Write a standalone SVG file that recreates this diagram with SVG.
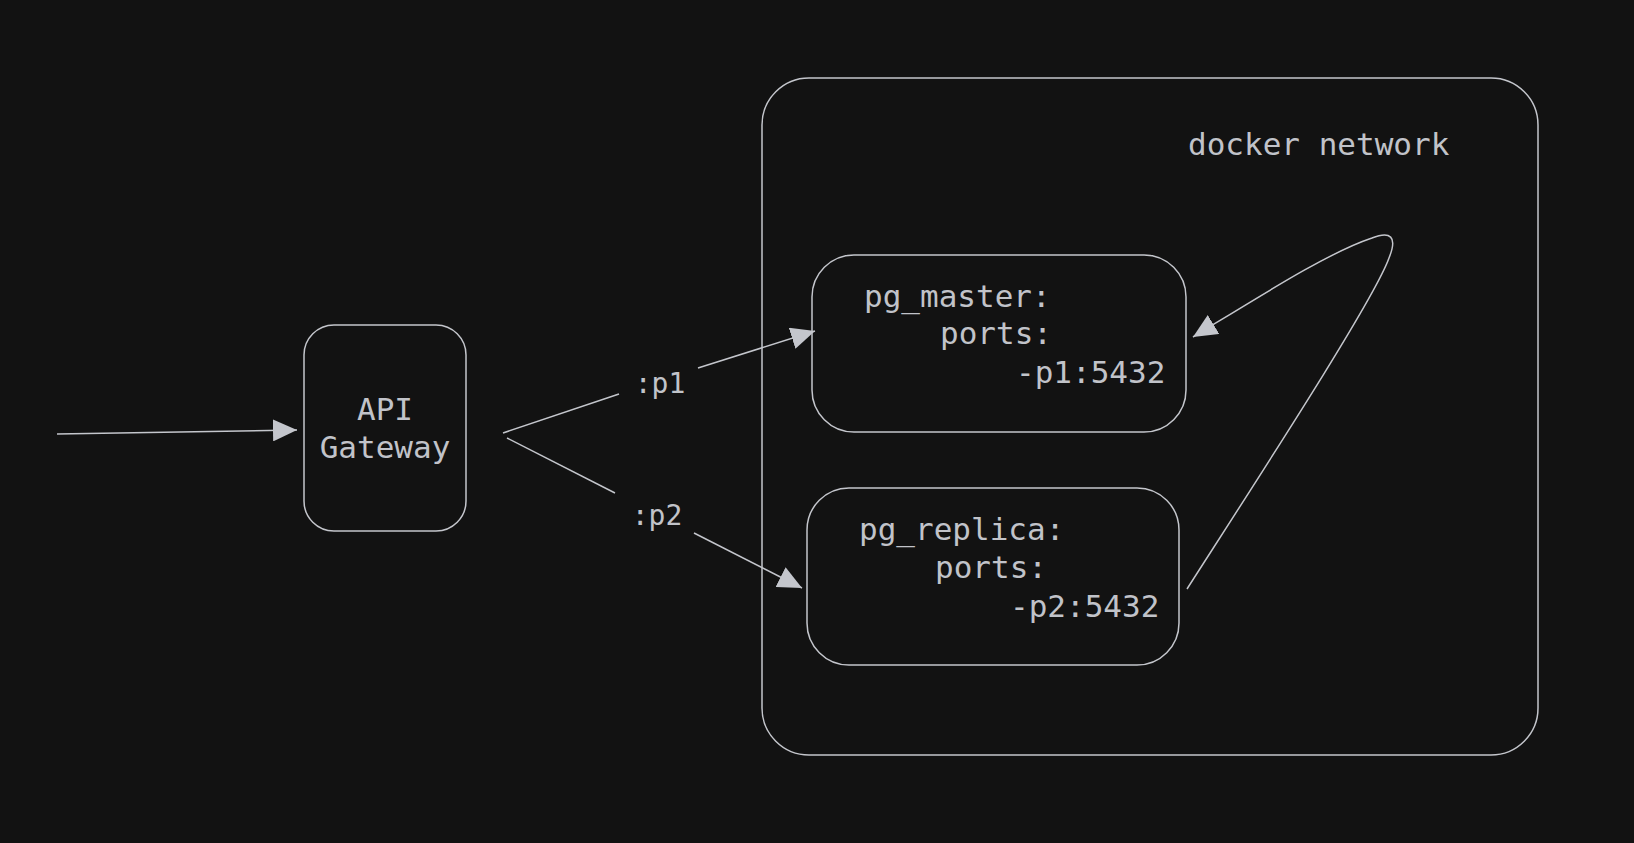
<svg xmlns="http://www.w3.org/2000/svg" width="1634" height="843" viewBox="0 0 1634 843">
<defs>
<style>
.box{fill:#121212;stroke:#c4c6cc;stroke-width:1.5}
.edge{fill:none;stroke:#c4c6cc;stroke-width:1.5}
.t{font-family:"DejaVu Sans Mono","Liberation Mono",monospace;font-size:31px;fill:#c1c3c9}
.lbl{font-family:"DejaVu Sans Mono","Liberation Mono",monospace;font-size:28px;fill:#c1c3c9;text-anchor:middle}
</style>
<marker id="ah" viewBox="0 0 24 22" refX="24" refY="11" markerWidth="24" markerHeight="22" markerUnits="userSpaceOnUse" orient="auto">
<path d="M0,0 L24,11 L0,22 z" fill="#c4c6cc"/>
</marker>
</defs>
<rect width="1634" height="843" fill="#121212"/>
<g id="docker-network">
<rect class="box" x="762" y="78" width="776" height="677" rx="47"/>
<text class="t" x="1188" y="155">docker network</text>
</g>
<g id="api-gateway">
<rect class="box" x="304" y="325" width="162" height="206" rx="30"/>
<text class="t" x="385" y="420" text-anchor="middle">API</text>
<text class="t" x="385" y="458" text-anchor="middle">Gateway</text>
</g>
<g id="pg-master">
<rect class="box" x="812" y="255" width="374" height="177" rx="42"/>
<text class="t" x="864" y="307">pg_master:</text>
<text class="t" x="940" y="344">ports:</text>
<text class="t" x="1016" y="383">-p1:5432</text>
</g>
<g id="pg-replica">
<rect class="box" x="807" y="488" width="372" height="177" rx="42"/>
<text class="t" x="859" y="540">pg_replica:</text>
<text class="t" x="935" y="578">ports:</text>
<text class="t" x="1010" y="617">-p2:5432</text>
</g>
<g id="connectors">
<path class="edge" d="M57,434 L297,430" marker-end="url(#ah)"/>
<path class="edge" d="M503,433 L619,394"/>
<path class="edge" d="M698,368 L815,331" marker-end="url(#ah)"/>
<text class="lbl" x="660" y="393">:p1</text>
<path class="edge" d="M507,438 L615,493"/>
<path class="edge" d="M694,533 L802,588" marker-end="url(#ah)"/>
<text class="lbl" x="657" y="525">:p2</text>
<path class="edge" d="M1187,589 C1262,472 1374,300 1389,258 C1398,236 1390,231 1372,238 C1330,252 1270,290 1193,337" marker-end="url(#ah)"/>
</g>
</svg>
